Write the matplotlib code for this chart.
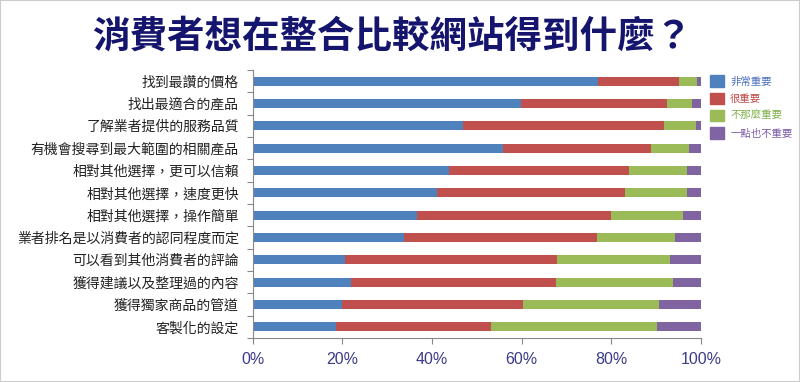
import matplotlib
matplotlib.use("Agg")
import matplotlib.pyplot as plt
import numpy as np
from matplotlib.patches import Patch

plt.rcParams['font.family'] = ['Noto Sans CJK TC', 'DejaVu Sans']

title = "消費者想在整合比較網站得到什麼？"
categories = [
    "找到最讚的價格",
    "找出最適合的產品",
    "了解業者提供的服務品質",
    "有機會搜尋到最大範圍的相關產品",
    "相對其他選擇，更可以信賴",
    "相對其他選擇，速度更快",
    "相對其他選擇，操作簡單",
    "業者排名是以消費者的認同程度而定",
    "可以看到其他消費者的評論",
    "獲得建議以及整理過的內容",
    "獲得獨家商品的管道",
    "客製化的設定",
]
series_names = ["非常重要", "很重要", "不那麼重要", "一點也不重要"]
very_important = [77.0, 59.8, 46.9, 55.8, 43.8, 41.1, 36.6, 33.7, 20.5, 21.9, 19.9, 18.5]
important      = [18.1, 32.6, 44.8, 33.0, 40.1, 41.9, 43.3, 43.1, 47.4, 45.7, 40.4, 34.6]
less_important = [4.0, 5.6, 7.2, 8.5, 13.0, 13.9, 16.1, 17.4, 25.2, 26.2, 30.3, 37.1]
not_important  = [0.9, 2.0, 1.1, 2.7, 3.1, 3.1, 4.0, 5.8, 6.9, 6.2, 9.4, 9.8]
xtick_labels = ["0%", "20%", "40%", "60%", "80%", "100%"]

colors = ["#4F81BD", "#C0504D", "#9BBB59", "#8064A2"]
text_colors = ["#4a6fc0", "#c04a4a", "#7fb04a", "#7a5aa8"]

fig = plt.figure(figsize=(8, 3.82), dpi=100)
fig.patch.set_facecolor("white")
ax = fig.add_axes([0.316, 0.115, 0.56, 0.702])

n = len(categories)
y = np.arange(n)
left = np.zeros(n)
for vals, c, name in zip([very_important, important, less_important, not_important], colors, series_names):
    vals = np.array(vals)
    ax.barh(y, vals, left=left, height=0.4, color=c, label=name)
    left += vals

ax.set_xlim(0, 100)
ax.set_ylim(n - 0.5, -0.5)
ax.set_xticks(np.arange(0, 101, 20))
ax.set_xticklabels(xtick_labels, fontfamily="Liberation Sans", fontsize=11.5, color="#3b3b8a")
ax.set_yticks(np.arange(-0.5, n, 1.0))
ax.set_yticklabels([])
ax.set_yticks(y, minor=True)
ax.set_yticklabels(categories, minor=True, fontsize=10, color="#222222")
ax.tick_params(axis="y", which="minor", length=0, pad=10)
ax.tick_params(axis="y", which="major", length=4, color="#888888", width=0.8)
ax.tick_params(axis="x", length=4, color="#888888", width=0.8, pad=6)
for s in ["top", "right"]:
    ax.spines[s].set_visible(False)
for s in ["left", "bottom"]:
    ax.spines[s].set_color("#888888")
    ax.spines[s].set_linewidth(0.8)

fig.text(0.49, 0.905, title, ha="center", va="center", fontsize=27,
         fontweight="heavy", color="#15156e")

handles = [Patch(facecolor=c, edgecolor=c) for c in colors]
leg = fig.legend(handles, series_names, loc="upper left", bbox_to_anchor=(0.888, 0.803),
                 frameon=False, fontsize=7.5, handlelength=1.3, handleheight=1.3,
                 labelspacing=0.58, handletextpad=0.6, borderaxespad=0, borderpad=0)
for t, c in zip(leg.get_texts(), text_colors):
    t.set_color(c)

fig.add_artist(plt.Rectangle((0, 0), 1, 1, transform=fig.transFigure, fill=False,
                             edgecolor="#cccccc", linewidth=1.5))

fig.savefig("out.png", dpi=100)
